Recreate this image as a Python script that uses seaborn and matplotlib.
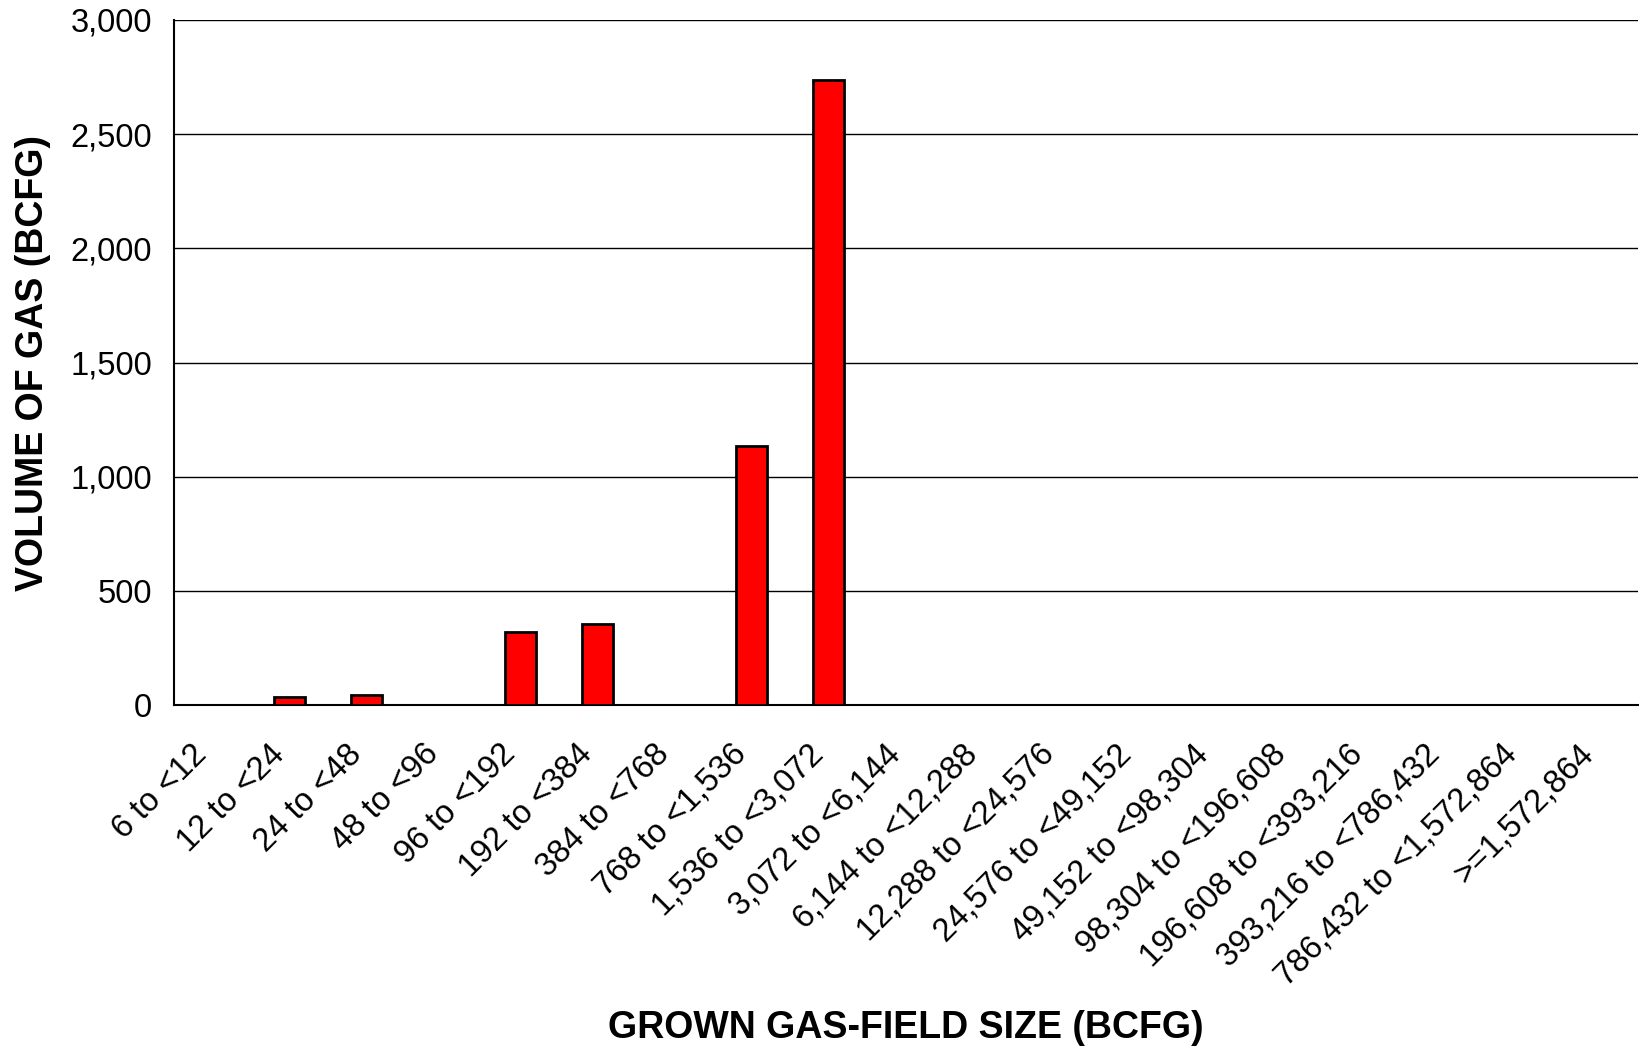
import matplotlib
matplotlib.use("Agg")
import matplotlib.pyplot as plt
import matplotlib.transforms as mtransforms
import seaborn as sns
import pandas as pd
import numpy as np

# field-size classes (BCFG)
size_classes = ["6 to <12", "12 to <24", "24 to <48", "48 to <96", "96 to <192",
                "192 to <384", "384 to <768", "768 to <1,536", "1,536 to <3,072",
                "3,072 to <6,144", "6,144 to <12,288", "12,288 to <24,576",
                "24,576 to <49,152", "49,152 to <98,304", "98,304 to <196,608",
                "196,608 to <393,216", "393,216 to <786,432",
                "786,432 to <1,572,864", ">=1,572,864"]
gas_volume = [0, 35, 44, 0, 320, 355, 0, 1135, 2737,
              0, 0, 0, 0, 0, 0, 0, 0, 0, 0]
y_ticks = [0, 500, 1000, 1500, 2000, 2500, 3000]

sns.set_style("white")
plt.rcParams['font.family'] = ['Liberation Sans', 'DejaVu Sans']
plt.rcParams['text.color'] = 'black'
plt.rcParams['axes.labelcolor'] = 'black'
plt.rcParams['xtick.color'] = 'black'
plt.rcParams['ytick.color'] = 'black'

df = pd.DataFrame({"size": size_classes, "volume": gas_volume})

fig = plt.figure(figsize=(16.39, 10.51), dpi=100)
ax = fig.add_axes([0.1062, 0.329, 0.893, 0.652])

sns.barplot(data=df, x="size", y="volume", color="red", edgecolor="black",
            linewidth=2, width=0.4, saturation=1, ax=ax, zorder=3)

ax.set_xlim(-0.5, len(size_classes) - 0.5)
ax.set_ylim(0, 3000)
ax.set_yticks(y_ticks)
ax.set_yticklabels([f"{v:,}" for v in y_ticks], fontsize=23.5)
ax.yaxis.grid(True, color="black", linewidth=1)
ax.set_axisbelow(True)

# category labels at centres, boundary ticks pointing inwards
ax.set_xticks(range(len(size_classes)))
ax.set_xticklabels(size_classes, rotation=45, ha="right", rotation_mode="anchor", fontsize=23.5)
ax.tick_params(axis="x", which="major", length=0, pad=24)
shift = mtransforms.ScaledTranslation(-0.21, 0, fig.dpi_scale_trans)
for lbl in ax.get_xticklabels():
    lbl.set_transform(lbl.get_transform() + shift)
ax.set_xticks(np.arange(0.5, len(size_classes) - 0.5), minor=True)
ax.tick_params(axis="x", which="minor", direction="in", length=10, width=1.2, color="black")
ax.tick_params(axis="y", direction="out", length=8, width=1.2, color="black", pad=8)

for side in ["top", "right"]:
    ax.spines[side].set_visible(False)
for side in ["left", "bottom"]:
    ax.spines[side].set_color("black")
    ax.spines[side].set_linewidth(1.5)

ax.set_xlabel("GROWN GAS-FIELD SIZE (BCFG)", fontsize=27, fontweight="bold")
ax.xaxis.set_label_coords(0.5, -0.445)
ax.set_ylabel("VOLUME OF GAS (BCFG)", fontsize=27, fontweight="bold", labelpad=14)

fig.savefig("out.png", dpi=100)
